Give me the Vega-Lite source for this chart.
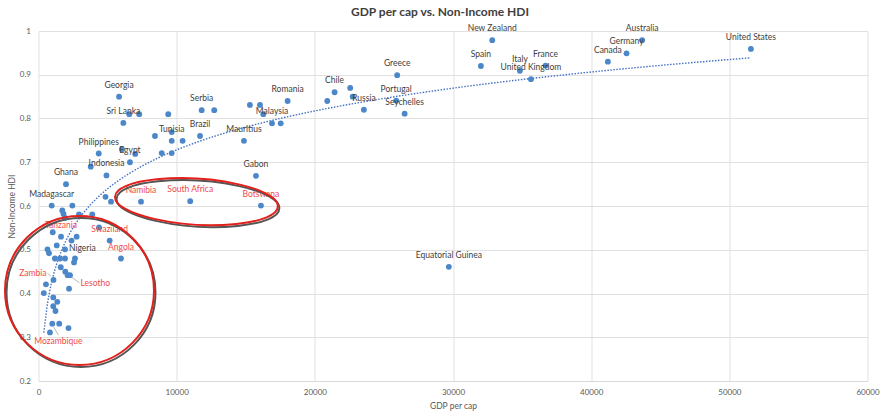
{
  "$schema": "https://vega.github.io/schema/vega-lite/v6.json",
  "width": 829,
  "height": 350,
  "autosize": {"type": "none"},
  "padding": {"left": 38.5, "top": 31, "right": 12.5, "bottom": 34},
  "background": "white",
  "title": {"text": "GDP per cap vs. Non-Income HDI", "fontSize": 12, "fontWeight": "bold", "font": "Lato", "color": "#404040", "anchor": "middle", "frame": "group", "dx": -13, "offset": 5},
  "config": {
    "view": {"stroke": null},
    "font": "Lato",
    "axis": {"gridColor": "#d9d9d9", "gridWidth": 0.8, "ticks": false, "labelColor": "#595959", "labelFontSize": 8, "titleColor": "#595959", "titleFontSize": 8.5, "titleFontWeight": "normal", "labelFont": "Lato", "titleFont": "Lato"}
  },
  "datasets": {
    "pts": [
      {"country": "United States", "gdp": 51560, "hdi": 0.959},
      {"country": "Australia", "gdp": 43690, "hdi": 0.979},
      {"country": "Germany", "gdp": 42560, "hdi": 0.949},
      {"country": "Canada", "gdp": 41210, "hdi": 0.930},
      {"country": "New Zealand", "gdp": 32840, "hdi": 0.979},
      {"country": "Spain", "gdp": 32020, "hdi": 0.920},
      {"country": "Italy", "gdp": 34840, "hdi": 0.909},
      {"country": "United Kingdom", "gdp": 35640, "hdi": 0.890},
      {"country": "France", "gdp": 36700, "hdi": 0.921},
      {"country": "Greece", "gdp": 25960, "hdi": 0.899},
      {"country": "Portugal", "gdp": 25890, "hdi": 0.841},
      {"country": "Seychelles", "gdp": 26500, "hdi": 0.811},
      {"country": "Chile", "gdp": 21430, "hdi": 0.860},
      {"country": "", "gdp": 20900, "hdi": 0.840},
      {"country": "", "gdp": 22560, "hdi": 0.870},
      {"country": "", "gdp": 22740, "hdi": 0.850},
      {"country": "Russia", "gdp": 23550, "hdi": 0.820},
      {"country": "Serbia", "gdp": 11810, "hdi": 0.819},
      {"country": "", "gdp": 12720, "hdi": 0.819},
      {"country": "", "gdp": 9390, "hdi": 0.810},
      {"country": "", "gdp": 9640, "hdi": 0.769},
      {"country": "", "gdp": 8430, "hdi": 0.760},
      {"country": "Tunisia", "gdp": 9640, "hdi": 0.749},
      {"country": "", "gdp": 10430, "hdi": 0.749},
      {"country": "Brazil", "gdp": 11690, "hdi": 0.760},
      {"country": "", "gdp": 8920, "hdi": 0.721},
      {"country": "", "gdp": 9640, "hdi": 0.721},
      {"country": "Mauritius", "gdp": 14870, "hdi": 0.749},
      {"country": "", "gdp": 15300, "hdi": 0.831},
      {"country": "", "gdp": 16030, "hdi": 0.831},
      {"country": "", "gdp": 16270, "hdi": 0.810},
      {"country": "Malaysia", "gdp": 16900, "hdi": 0.789},
      {"country": "", "gdp": 17530, "hdi": 0.789},
      {"country": "Romania", "gdp": 18030, "hdi": 0.840},
      {"country": "Gabon", "gdp": 15740, "hdi": 0.669},
      {"country": "South Africa", "gdp": 10980, "hdi": 0.611, "focus": 1},
      {"country": "Botswana", "gdp": 16100, "hdi": 0.601, "focus": 1},
      {"country": "Georgia", "gdp": 5830, "hdi": 0.850},
      {"country": "", "gdp": 6570, "hdi": 0.810},
      {"country": "", "gdp": 7290, "hdi": 0.810},
      {"country": "Sri Lanka", "gdp": 6140, "hdi": 0.790},
      {"country": "Philippines", "gdp": 4360, "hdi": 0.720},
      {"country": "", "gdp": 6040, "hdi": 0.730},
      {"country": "", "gdp": 7000, "hdi": 0.719},
      {"country": "Egypt", "gdp": 6620, "hdi": 0.700},
      {"country": "Indonesia", "gdp": 4920, "hdi": 0.670},
      {"country": "", "gdp": 3780, "hdi": 0.690},
      {"country": "Ghana", "gdp": 1990, "hdi": 0.650},
      {"country": "Namibia", "gdp": 7420, "hdi": 0.610, "focus": 1},
      {"country": "", "gdp": 4850, "hdi": 0.621},
      {"country": "", "gdp": 5250, "hdi": 0.610},
      {"country": "Madagascar", "gdp": 955, "hdi": 0.601},
      {"country": "", "gdp": 2450, "hdi": 0.601},
      {"country": "", "gdp": 1720, "hdi": 0.590},
      {"country": "", "gdp": 1810, "hdi": 0.582},
      {"country": "", "gdp": 2930, "hdi": 0.581},
      {"country": "", "gdp": 3890, "hdi": 0.581},
      {"country": "", "gdp": 1920, "hdi": 0.573},
      {"country": "", "gdp": 4380, "hdi": 0.551},
      {"country": "", "gdp": 1030, "hdi": 0.540},
      {"country": "Tanzania", "gdp": 1630, "hdi": 0.530, "focus": 1},
      {"country": "", "gdp": 2760, "hdi": 0.530},
      {"country": "", "gdp": 2390, "hdi": 0.521},
      {"country": "Swaziland", "gdp": 5150, "hdi": 0.521, "focus": 1},
      {"country": "Angola", "gdp": 5970, "hdi": 0.480, "focus": 1},
      {"country": "", "gdp": 1320, "hdi": 0.510},
      {"country": "", "gdp": 650, "hdi": 0.501},
      {"country": "", "gdp": 760, "hdi": 0.492},
      {"country": "Nigeria", "gdp": 1920, "hdi": 0.501},
      {"country": "", "gdp": 1190, "hdi": 0.480},
      {"country": "", "gdp": 1560, "hdi": 0.480},
      {"country": "", "gdp": 1920, "hdi": 0.480},
      {"country": "", "gdp": 2640, "hdi": 0.480},
      {"country": "", "gdp": 2570, "hdi": 0.471},
      {"country": "", "gdp": 1610, "hdi": 0.460},
      {"country": "", "gdp": 1940, "hdi": 0.450},
      {"country": "", "gdp": 2110, "hdi": 0.442},
      {"country": "Lesotho", "gdp": 2280, "hdi": 0.442, "focus": 1},
      {"country": "Zambia", "gdp": 1085, "hdi": 0.431, "focus": 1},
      {"country": "", "gdp": 540, "hdi": 0.421},
      {"country": "", "gdp": 2210, "hdi": 0.411},
      {"country": "", "gdp": 385, "hdi": 0.401},
      {"country": "", "gdp": 1070, "hdi": 0.391},
      {"country": "", "gdp": 1360, "hdi": 0.381},
      {"country": "", "gdp": 1070, "hdi": 0.371},
      {"country": "", "gdp": 1230, "hdi": 0.360},
      {"country": "Mozambique", "gdp": 1000, "hdi": 0.331, "focus": 1},
      {"country": "", "gdp": 1500, "hdi": 0.331},
      {"country": "", "gdp": 2170, "hdi": 0.321},
      {"country": "", "gdp": 830, "hdi": 0.311},
      {"country": "Equatorial Guinea", "gdp": 29700, "hdi": 0.461}
    ],
    "ann": [
      {"group": "Southern Africa low income", "gdp": 2967, "hdi": 0.407},
      {"group": "Southern Africa middle income", "gdp": 11433, "hdi": 0.610}
    ]
  },
  "data": {"name": "pts"},
  "encoding": {
    "x": {"field": "gdp", "type": "quantitative", "scale": {"domain": [0, 60000], "nice": false},
      "axis": {"title": "GDP per cap", "values": [0, 10000, 20000, 30000, 40000, 50000, 60000], "format": "d", "domainColor": "#d9d9d9", "labelPadding": 7, "titlePadding": 5, "labelFlush": false}},
    "y": {"field": "hdi", "type": "quantitative", "scale": {"domain": [0.2, 1], "nice": false, "zero": false},
      "axis": {"title": "Non-Income HDI", "values": [0.2, 0.3, 0.4, 0.5, 0.6, 0.7, 0.8, 0.9, 1], "format": ".1~f", "domain": false, "labelPadding": 8, "titlePadding": 3}}
  },
  "layer": [
    {
      "transform": [{"regression": "hdi", "on": "gdp", "method": "log"}],
      "mark": {"type": "line", "color": "#4472c4", "strokeWidth": 1.4, "strokeDash": [1.5, 1.5]}
    },
    {
      "mark": {"type": "circle", "size": 34, "color": "#4b87c9", "opacity": 1}
    },
    {
      "transform": [{"filter": "datum.country != '' && indexof(['Nigeria','Zambia','Lesotho','Mozambique'], datum.country) < 0"}],
      "mark": {"type": "text", "fontSize": 8.5, "dy": -12, "align": "center", "baseline": "middle"},
      "encoding": {"text": {"field": "country"}, "color": {"condition": {"test": "datum.focus == 1", "value": "#ee4b4b"}, "value": "#404040"}}
    },
    {
      "transform": [{"filter": "datum.country == 'Nigeria'"}],
      "mark": {"type": "text", "fontSize": 8.5, "dx": 4, "dy": -1, "align": "left", "baseline": "middle", "color": "#404040"},
      "encoding": {"text": {"field": "country"}}
    },
    {
      "transform": [{"filter": "datum.country == 'Zambia'"}],
      "mark": {"type": "text", "fontSize": 8.5, "dx": -7, "dy": -6.7, "align": "right", "baseline": "middle", "color": "#ee4b4b"},
      "encoding": {"text": {"field": "country"}}
    },
    {
      "transform": [{"filter": "datum.country == 'Lesotho'"}],
      "mark": {"type": "text", "fontSize": 8.5, "dx": 10.5, "dy": 7.7, "align": "left", "baseline": "middle", "color": "#ee4b4b"},
      "encoding": {"text": {"field": "country"}}
    },
    {
      "transform": [{"filter": "datum.country == 'Mozambique'"}],
      "mark": {"type": "text", "fontSize": 8.5, "dx": 6, "dy": 17.5, "align": "center", "baseline": "middle", "color": "#ee4b4b"},
      "encoding": {"text": {"field": "country"}}
    },
    {
      "transform": [{"filter": "datum.country == 'Zambia'"}],
      "mark": {"type": "rule", "color": "#a6a6a6", "strokeWidth": 0.8, "xOffset": -6, "yOffset": -6.7, "x2Offset": -2.5, "y2Offset": -3.5},
      "encoding": {"x2": {"field": "gdp"}, "y2": {"field": "hdi"}}
    },
    {
      "transform": [{"filter": "datum.country == 'Lesotho'"}],
      "mark": {"type": "rule", "color": "#a6a6a6", "strokeWidth": 0.8, "xOffset": 9.5, "yOffset": 7.7, "x2Offset": 1.5, "y2Offset": 2},
      "encoding": {"x2": {"field": "gdp"}, "y2": {"field": "hdi"}}
    },
    {
      "transform": [{"filter": "datum.country == 'Mozambique'"}],
      "mark": {"type": "rule", "color": "#a6a6a6", "strokeWidth": 0.8, "xOffset": 6, "yOffset": 11.5, "x2Offset": 1.5, "y2Offset": 3.5},
      "encoding": {"x2": {"field": "gdp"}, "y2": {"field": "hdi"}}
    },
    {
      "data": {"name": "ann"},
      "transform": [{"filter": "datum.group == 'Southern Africa low income'"}],
      "mark": {"type": "point", "filled": false, "shape": "M-1,0A1,1 0 1,0 1,0A1,1 0 1,0 -1,0Z", "size": 22201, "stroke": "#555555", "strokeWidth": 2, "opacity": 1, "xOffset": 1.5, "yOffset": 2}
    },
    {
      "data": {"name": "ann"},
      "transform": [{"filter": "datum.group == 'Southern Africa low income'"}],
      "mark": {"type": "point", "filled": false, "shape": "M-1,0A1,1 0 1,0 1,0A1,1 0 1,0 -1,0Z", "size": 22201, "stroke": "#e3201b", "strokeWidth": 2, "opacity": 1}
    },
    {
      "data": {"name": "ann"},
      "transform": [{"filter": "datum.group == 'Southern Africa middle income'"}],
      "mark": {"type": "point", "filled": false, "shape": "M-0.998,-0.061A1,0.276 3.5 1,0 0.998,0.061A1,0.276 3.5 1,0 -0.998,-0.061Z", "size": 26569, "stroke": "#555555", "strokeWidth": 2, "opacity": 1, "xOffset": 1.5, "yOffset": 2}
    },
    {
      "data": {"name": "ann"},
      "transform": [{"filter": "datum.group == 'Southern Africa middle income'"}],
      "mark": {"type": "point", "filled": false, "shape": "M-0.998,-0.061A1,0.276 3.5 1,0 0.998,0.061A1,0.276 3.5 1,0 -0.998,-0.061Z", "size": 26569, "stroke": "#e3201b", "strokeWidth": 2, "opacity": 1}
    }
  ]
}
